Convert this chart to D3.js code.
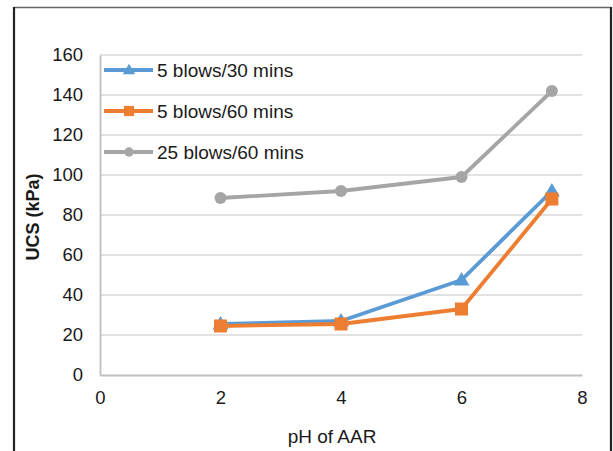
<!DOCTYPE html>
<html><head><meta charset="utf-8">
<script src="https://cdn.jsdelivr.net/npm/d3@7"></script>
<style>html,body{margin:0;padding:0;background:#fff;}svg{display:block;}</style>
</head><body>
<svg id="chart" width="613" height="451"></svg>
<script>
const phValues = [2, 4, 6, 7.5];
const seriesNames = ["5 blows/30 mins", "5 blows/60 mins", "25 blows/60 mins"];
const blows5min30 = [25.5, 27, 47.5, 92];
const blows5min60 = [24.5, 25.5, 33, 88];
const blows25min60 = [88.5, 92, 99, 142];
const seriesColors = ["#5B9BD5", "#ED7D31", "#A5A5A5"];
const seriesMarkers = ["triangle", "square", "circle"];
const xTicks = [0, 2, 4, 6, 8];
const yTicks = [0, 20, 40, 60, 80, 100, 120, 140, 160];

(function () {
const svg = d3.select("#chart");
const font = "'Liberation Sans', Arial, sans-serif";
const pLeft = 100, pRight = 582, pTop = 55, pBottom = 375;
const x = d3.scaleLinear().domain([0, 8]).range([pLeft, pRight]);
const y = d3.scaleLinear().domain([0, 160]).range([pBottom, pTop]);

// frame
svg.append("line").attr("x1", 14).attr("x2", 611).attr("y1", 7.5).attr("y2", 7.5).attr("stroke", "#666").attr("stroke-width", 1.5);
svg.append("line").attr("x1", 14).attr("x2", 14).attr("y1", 7).attr("y2", 451).attr("stroke", "#222").attr("stroke-width", 2.2);
svg.append("line").attr("x1", 611).attr("x2", 611).attr("y1", 7).attr("y2", 451).attr("stroke", "#222").attr("stroke-width", 2.2);

// gridlines
svg.append("g").selectAll("line").data(yTicks.filter(d => d > 0)).join("line")
  .attr("x1", pLeft).attr("x2", pRight).attr("y1", d => y(d)).attr("y2", d => y(d))
  .attr("stroke", "#d9d9d9").attr("stroke-width", 1.5);

// axes
const yAxis = svg.append("g").attr("transform", `translate(${pLeft},0)`)
  .call(d3.axisLeft(y).tickValues(yTicks).tickSize(0).tickPadding(17));
const xAxis = svg.append("g").attr("transform", `translate(0,${pBottom})`)
  .call(d3.axisBottom(x).tickValues(xTicks).tickSize(0).tickPadding(16));
[yAxis, xAxis].forEach(a => {
  a.select(".domain").attr("stroke", "#bfbfbf").attr("stroke-width", 1.8);
  a.selectAll("text").attr("font-family", font).attr("font-size", 18.5).attr("fill", "#1a1a1a");
});

// axis titles
svg.append("text").attr("x", 332).attr("y", 443).attr("text-anchor", "middle")
  .attr("font-family", font).attr("font-size", 19).attr("fill", "#1a1a1a").text("pH of AAR");
svg.append("text").attr("transform", "translate(39,217) rotate(-90)").attr("text-anchor", "middle")
  .attr("font-family", font).attr("font-size", 18).attr("font-weight", "bold").attr("fill", "#1a1a1a").text("UCS (kPa)");

const allSeries = [blows5min30, blows5min60, blows25min60];
const line = d3.line().x(d => x(d[0])).y(d => y(d[1]));

function drawMarker(g, type, cx, cy, color, k) {
  if (type === "circle") {
    g.append("circle").attr("cx", cx).attr("cy", cy).attr("r", 6 * k).attr("fill", color);
  } else if (type === "square") {
    const h = 6.5 * k;
    g.append("rect").attr("x", cx - h).attr("y", cy - h).attr("width", 2 * h).attr("height", 2 * h).attr("fill", color);
  } else {
    const s = 8 * k;
    g.append("path").attr("d", `M${cx},${cy - s}L${cx + s},${cy + s * 0.7}L${cx - s},${cy + s * 0.7}Z`).attr("fill", color);
  }
}

const order = [2, 0, 1];
order.forEach(i => {
  const vals = allSeries[i];
  const pts = phValues.map((p, j) => [p, vals[j]]);
  const g = svg.append("g");
  g.append("path").attr("d", line(pts)).attr("fill", "none").attr("stroke", seriesColors[i])
    .attr("stroke-width", 3.8).attr("stroke-linejoin", "round");
  pts.forEach(p => drawMarker(g, seriesMarkers[i], x(p[0]), y(p[1]), seriesColors[i], 1));
});

// legend
const legendY = [70, 111, 152];
seriesNames.forEach((name, i) => {
  const g = svg.append("g");
  g.append("line").attr("x1", 104).attr("x2", 153).attr("y1", legendY[i]).attr("y2", legendY[i])
    .attr("stroke", seriesColors[i]).attr("stroke-width", 3.8);
  drawMarker(g, seriesMarkers[i], 129, legendY[i], seriesColors[i], 0.78);
  g.append("text").attr("x", 157).attr("y", legendY[i] + 6.8).attr("font-family", font)
    .attr("font-size", 19).attr("fill", "#1a1a1a").text(name);
});
})();
</script>
</body></html>
